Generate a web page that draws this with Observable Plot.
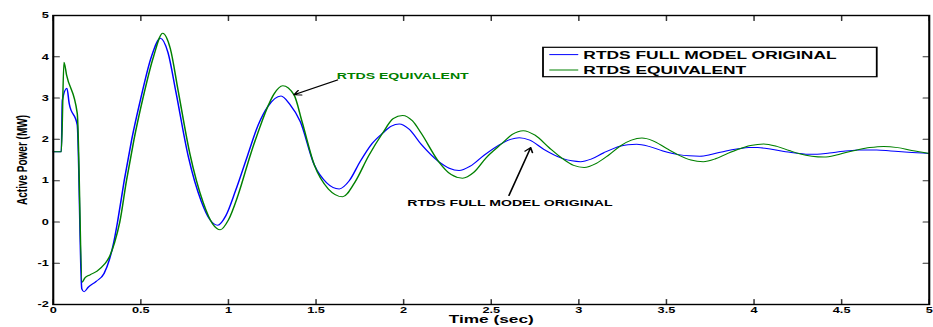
<!DOCTYPE html>
<html>
<head>
<meta charset="utf-8">
<script src="https://cdn.jsdelivr.net/npm/d3@7"></script>
<script src="https://cdn.jsdelivr.net/npm/@observablehq/plot@0.6"></script>
<style>
  html, body { margin: 0; padding: 0; background: #fff; }
  #chart svg { display: block; }
</style>
</head>
<body>
<div id="chart"></div>
<script>
// ---- data ----
const seriesNames = ["RTDS FULL MODEL ORIGINAL", "RTDS EQUIVALENT"];

const fullTime = [0, 0.046, 0.052, 0.078, 0.091, 0.137, 0.163, 0.176, 0.20, 0.245, 0.29, 0.32, 0.345, 0.367, 0.405, 0.448, 0.50, 0.56, 0.612,
  0.655, 0.70, 0.77, 0.845, 0.895, 0.939, 0.985, 1.04, 1.11, 1.17, 1.224, 1.30, 1.35, 1.41, 1.49, 1.56, 1.632,
  1.69, 1.75, 1.82, 1.88, 1.93, 1.975, 2.03, 2.10, 2.20, 2.26, 2.316, 2.38, 2.46, 2.564, 2.61, 2.66, 2.72, 2.80,
  2.905, 2.96, 3.01, 3.07, 3.14, 3.24, 3.28, 3.33, 3.40, 3.48, 3.57, 3.63, 3.69, 3.76, 3.84, 3.91, 3.97, 4.02,
  4.10, 4.18, 4.26, 4.31, 4.36, 4.43, 4.51, 4.59, 4.64, 4.70, 4.78, 4.88, 5.0];
const fullPower = [1.70, 1.70, 2.95, 3.24, 2.87, 2.35, -1.62, -1.69, -1.58, -1.44, -1.25, -0.92, -0.5, 0.0, 1.0, 2.0, 3.0, 4.0, 4.45,
  4.1, 3.15, 1.6, 0.5, 0.05, -0.08, 0.15, 0.75, 1.62, 2.35, 2.79, 3.05, 2.85, 2.43, 1.38, 0.95, 0.80,
  1.0, 1.45, 1.9, 2.15, 2.32, 2.37, 2.25, 1.88, 1.46, 1.3, 1.245, 1.35, 1.62, 1.91, 2.0, 2.04, 1.98, 1.76,
  1.54, 1.48, 1.46, 1.52, 1.67, 1.84, 1.87, 1.88, 1.83, 1.72, 1.63, 1.60, 1.59, 1.64, 1.72, 1.77, 1.80, 1.80,
  1.76, 1.70, 1.66, 1.64, 1.64, 1.67, 1.71, 1.74, 1.745, 1.745, 1.72, 1.69, 1.66];

const equivTime = [0, 0.046, 0.061, 0.076, 0.137, 0.165, 0.18, 0.21, 0.25, 0.293, 0.32, 0.35, 0.38, 0.418, 0.461, 0.512, 0.572, 0.625,
  0.668, 0.712, 0.78, 0.855, 0.91, 0.953, 1.0, 1.055, 1.125, 1.19, 1.224, 1.26, 1.31, 1.374, 1.42, 1.49, 1.57, 1.652,
  1.72, 1.80, 1.88, 1.94, 1.994, 2.05, 2.10, 2.20, 2.27, 2.336, 2.40, 2.47, 2.564, 2.62, 2.683, 2.75, 2.83, 2.905,
  2.97, 3.03, 3.10, 3.17, 3.24, 3.30, 3.36, 3.42, 3.50, 3.57, 3.64, 3.71, 3.78, 3.85, 3.91, 3.98, 4.055, 4.13,
  4.20, 4.26, 4.33, 4.40, 4.47, 4.53, 4.59, 4.66, 4.74, 4.82, 4.90, 5.0];
const equivPower = [1.70, 1.70, 3.87, 3.56, 2.63, -1.46, -1.36, -1.28, -1.19, -1.02, -0.85, -0.5, 0.0, 1.0, 2.0, 3.0, 4.0, 4.57,
  4.2, 3.2, 1.65, 0.48, -0.05, -0.19, 0.05, 0.65, 1.62, 2.42, 2.79, 3.1, 3.30, 3.08, 2.43, 1.38, 0.8, 0.61,
  0.95, 1.6, 2.15, 2.5, 2.58, 2.45, 2.15, 1.46, 1.15, 1.06, 1.2, 1.55, 1.91, 2.12, 2.21, 2.1, 1.8, 1.54,
  1.37, 1.32, 1.42, 1.62, 1.85, 1.98, 2.03, 1.97, 1.78, 1.62, 1.5, 1.46, 1.53, 1.66, 1.76, 1.85, 1.89, 1.83,
  1.73, 1.65, 1.59, 1.57, 1.62, 1.69, 1.745, 1.80, 1.83, 1.80, 1.73, 1.66];

const xTicks = [0, 0.5, 1, 1.5, 2, 2.5, 3, 3.5, 4, 4.5, 5];
const yTicks = [-2, -1, 0, 1, 2, 3, 4, 5];

// annotations (text + arrow, in data units)
const noteText = ["RTDS EQUIVALENT", "RTDS FULL MODEL ORIGINAL"];
const noteX = [1.618, 2.021];
const noteY = [3.54, 0.47];
const arrowFromX = [1.622, 2.601];
const arrowFromY = [3.44, 0.64];
const arrowToX = [1.374, 2.725];
const arrowToY = [3.08, 1.80];

// ---- build ----
const colors = ["#0000ff", "#008000"];
const full = fullTime.map((t, i) => ({t, p: fullPower[i]}));
const equiv = equivTime.map((t, i) => ({t, p: equivPower[i]}));
const notes = noteText.map((s, i) => ({s, x: noteX[i], y: noteY[i], x1: arrowFromX[i], y1: arrowFromY[i], x2: arrowToX[i], y2: arrowToY[i]}));

const W = 622, H = 327, OUTW = 933;
const font = "'Liberation Sans', Arial, Helvetica, sans-serif";

// straight tick shape for inward tick vectors
const tickShape = {draw(context, l) { context.moveTo(0, 0); context.lineTo(0, -l); }};
const tickStyle = {shape: tickShape, anchor: "start", stroke: "#333", strokeWidth: 1};

const svg = Plot.plot({
  width: W, height: H,
  marginLeft: 35, marginRight: 3, marginTop: 15, marginBottom: 23,
  x: {domain: [0, 5]},
  y: {domain: [-2, 5]},
  style: {fontFamily: font, fontWeight: "bold", fontSize: "8.5px", color: "#000", background: "#fff"},
  marks: [
    Plot.line(full, {x: "t", y: "p", stroke: colors[0], strokeWidth: 1.0, curve: "monotone-x"}),
    Plot.line(equiv, {x: "t", y: "p", stroke: colors[1], strokeWidth: 1.0, curve: "monotone-x"}),
    Plot.vector(xTicks, {x: d => d, frameAnchor: "bottom", length: 5, rotate: 0, ...tickStyle}),
    Plot.vector(xTicks, {x: d => d, frameAnchor: "top", length: 5, rotate: 180, ...tickStyle}),
    Plot.vector(yTicks, {y: d => d, frameAnchor: "left", length: 4, rotate: 90, ...tickStyle}),
    Plot.vector(yTicks, {y: d => d, frameAnchor: "right", length: 4, rotate: -90, ...tickStyle}),
    Plot.axisX(xTicks, {anchor: "bottom", tickSize: 0, tickPadding: 2, tickFormat: d => String(d), label: null}),
    Plot.axisY(yTicks, {anchor: "left", tickSize: 0, tickPadding: 3, tickFormat: d => String(d), label: null}),
    Plot.frame({stroke: "#000", strokeWidth: 1.4}),
    Plot.text(["Time (sec)"], {frameAnchor: "bottom", dy: 14.5, lineAnchor: "middle", fontSize: 11.5, fontWeight: "bold"}),
    Plot.text(["Active Power (MW)"], {frameAnchor: "left", dx: -21, rotate: -90, textAnchor: "middle", fontSize: 10, fontWeight: "bold"}),
    Plot.arrow(notes, {x1: "x1", y1: "y1", x2: "x2", y2: "y2", stroke: "#000", strokeWidth: 1.1, headLength: 7}),
    Plot.text(notes, {x: "x", y: "y", text: "s", textAnchor: "start", fill: (d, i) => i === 0 ? colors[1] : "#000", fontSize: 9.4, fontWeight: "bold"})
  ]
});

// legend (inside the same SVG coordinate system)
const g = d3.select(svg).append("g")
  .attr("font-family", font).attr("font-weight", "bold").attr("font-size", 11.6).attr("text-anchor", "start");
g.append("rect").attr("x", 362).attr("y", 47.3).attr("width", 222.5).attr("height", 29.4)
  .attr("fill", "#fff").attr("stroke", "#000").attr("stroke-width", 1.2);
seriesNames.forEach((name, i) => {
  const y = 54.6 + i * 15.4;
  g.append("line").attr("x1", 366.2).attr("x2", 385.5).attr("y1", y).attr("y2", y)
    .attr("stroke", colors[i]).attr("stroke-width", 1);
  g.append("text").attr("x", 388.9).attr("y", y).attr("dy", "0.36em").attr("fill", "#000").text(name);
});

// the reference is horizontally stretched: draw at W and stretch to OUTW
svg.setAttribute("width", OUTW);
svg.setAttribute("height", H);
svg.setAttribute("viewBox", `0 0 ${W} ${H}`);
svg.setAttribute("preserveAspectRatio", "none");
svg.style.width = OUTW + "px";
svg.style.height = H + "px";
svg.style.maxWidth = "none";
document.getElementById("chart").appendChild(svg);
</script>
</body>
</html>
